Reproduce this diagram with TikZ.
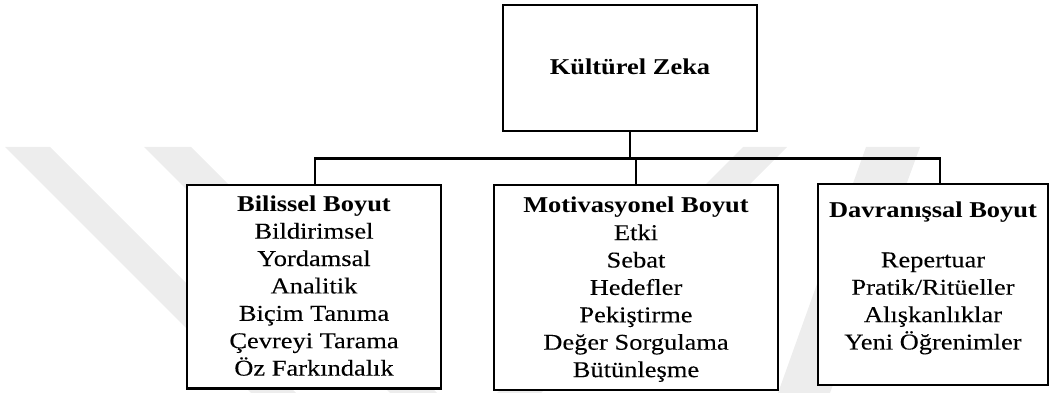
\documentclass[tikz,border=0pt]{standalone}
\usepackage{fontspec}
\setmainfont{Liberation Serif}[FakeStretch=1.17,UprightFeatures={FakeBold=0.12}]
\begin{document}
\begin{tikzpicture}[x=1pt,y=-1pt,
  box/.style={draw,line width=2.7pt,fill=white,inner sep=0pt,outer sep=0pt},
  wire/.style={line width=2.7pt},
  txt/.style={inner sep=0pt,anchor=base,font=\fontsize{22.6}{27.4}\selectfont},
  shade/.style={fill=black!7,draw=none}]
\useasboundingbox (0,0) rectangle (1050,393);

% faint background bands
\fill[shade] (5,147) -- (50,147) -- (296,393) -- (251,393) -- cycle;
\fill[shade] (144,147) -- (191,147) -- (437,393) -- (390,393) -- cycle;
\fill[shade] (743,147) -- (787,147) -- (541,393) -- (497,393) -- cycle;
\fill[shade] (866,147) -- (920,147) -- (830,393) -- (778,393) -- cycle;

% boxes
\node[box,minimum width=254pt,minimum height=126pt] (kz)  at (630,68) {};
\node[box,minimum width=254pt,minimum height=203.5pt] (bil) at (314,286.75) {};
\node[box,minimum width=284pt,minimum height=205pt] (mot) at (636,287.5) {};
\node[box,minimum width=230pt,minimum height=201pt] (dav) at (933,284.5) {};

% connectors
\coordinate (busL) at (315,158.5);
\coordinate (busR) at (940,158.5);
\draw[wire] (kz.south) -- (kz.south |- busL);
\draw[wire] (busL |- bil.north) -- (busL) -- (busR) -- (busR |- dav.north);
\draw[wire] (mot.north) -- (mot.north |- busL);

% labels
\node[txt] (kzt) at (630,75) {\textbf{Kültürel Zeka}};
\node[txt] (bilt) at (314,211.2) {\begin{tabular}[t]{@{}c@{}}
  \textbf{Bilissel Boyut}\\ Bildirimsel\\ Yordamsal\\ Analitik\\
  Biçim Tanıma\\ Çevreyi Tarama\\ Öz Farkındalık\end{tabular}};
\node[txt] (mott) at (636,212.7) {\begin{tabular}[t]{@{}c@{}}
  \textbf{Motivasyonel Boyut}\\ Etki\\ Sebat\\ Hedefler\\
  Pekiştirme\\ Değer Sorgulama\\ Bütünleşme\end{tabular}};
\node[txt] (davt) at (933,217.3) {\begin{tabular}[t]{@{}c@{}}
  \textbf{Davranışsal Boyut}\\[22.6pt] Repertuar\\ Pratik/Ritüeller\\
  Alışkanlıklar\\ Yeni Öğrenimler\end{tabular}};
\end{tikzpicture}
\end{document}
